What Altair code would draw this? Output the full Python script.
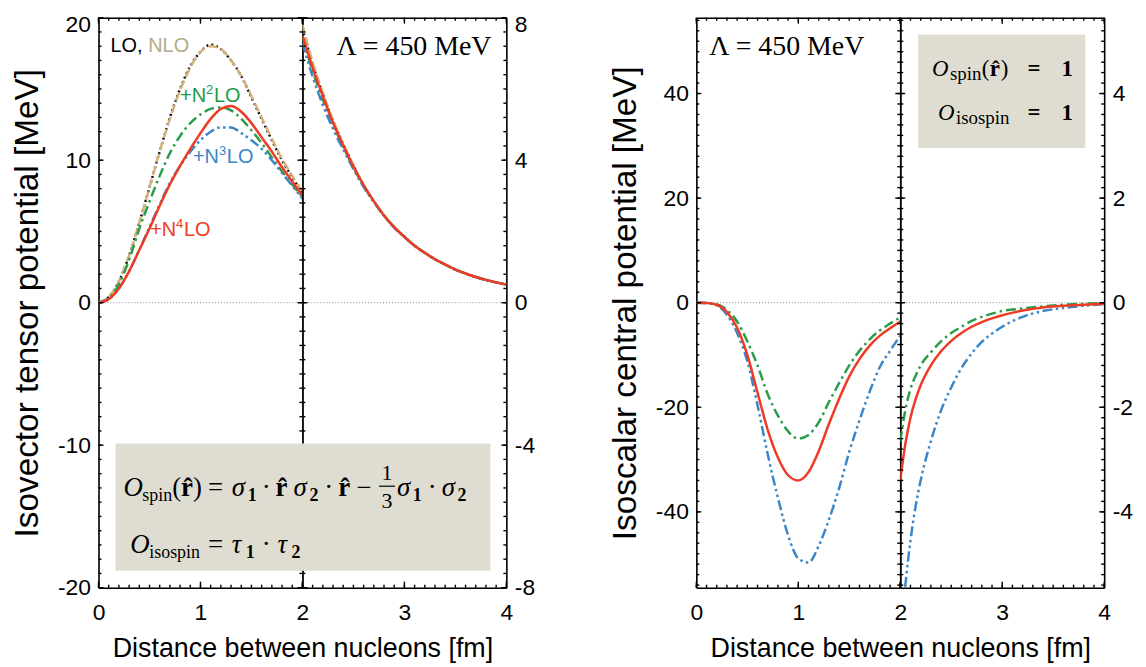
import altair as alt
import pandas as pd

# ---------------- data ----------------
R_IN = [0.0, 0.1, 0.2, 0.3, 0.4, 0.5, 0.6, 0.7, 0.8, 0.9, 1.0, 1.1, 1.2, 1.3, 1.4, 1.5, 1.6, 1.7, 1.8, 1.9, 2.0]
R_OUT = [2.0, 2.1, 2.2, 2.3, 2.4, 2.5, 2.6, 2.7, 2.8, 2.9, 3.0, 3.1, 3.2, 3.3, 3.4, 3.5, 3.6, 3.7, 3.8, 3.9, 4.0]
R_OUT_IS = [2.0, 2.05, 2.1, 2.15, 2.2, 2.3, 2.4, 2.5, 2.6, 2.7, 2.8, 2.9, 3.0, 3.2, 3.4, 3.6, 3.8, 4.0]

TV_LO_IN = [0, 0.4, 1.5, 3.3, 5.6, 8.1, 10.6, 13.0, 15.0, 16.6, 17.6, 18.1, 17.8, 17.0, 15.9, 14.4, 12.9, 11.4, 10.0, 8.8, 7.7]
TV_NLO_IN = [0, 0.4, 1.5, 3.3, 5.6, 8.1, 10.6, 12.9, 14.9, 16.5, 17.6, 18.0, 17.8, 17.0, 15.9, 14.5, 13.0, 11.5, 10.1, 8.9, 7.8]
TV_N2LO_IN = [0, 0.3, 1.3, 3.0, 5.2, 7.1, 8.9, 10.5, 11.7, 12.6, 13.2, 13.6, 13.7, 13.5, 12.9, 12.1, 11.2, 10.2, 9.2, 8.3, 7.4]
TV_N3LO_IN = [0, 0.25, 1.0, 2.2, 3.7, 5.3, 6.9, 8.4, 9.6, 10.6, 11.4, 12.0, 12.3, 12.3, 11.9, 11.4, 10.8, 10.0, 9.1, 8.2, 7.3]
TV_N4LO_IN = [0, 0.25, 1.0, 2.2, 3.7, 5.2, 6.8, 8.3, 9.6, 10.8, 11.9, 12.9, 13.6, 13.8, 13.4, 12.6, 11.6, 10.6, 9.5, 8.5, 7.5]

TV_LO_OUT = [7.7, 6.7, 5.85, 5.1, 4.45, 3.85, 3.3, 2.85, 2.45, 2.12, 1.85, 1.6, 1.4, 1.22, 1.07, 0.93, 0.82, 0.72, 0.64, 0.57, 0.51]
TV_NLO_OUT = [7.8, 6.75, 5.9, 5.12, 4.46, 3.86, 3.3, 2.85, 2.45, 2.12, 1.85, 1.6, 1.4, 1.22, 1.07, 0.93, 0.82, 0.72, 0.64, 0.57, 0.51]
TV_N2LO_OUT = [7.45, 6.5, 5.7, 5.0, 4.38, 3.8, 3.28, 2.84, 2.45, 2.12, 1.85, 1.6, 1.4, 1.22, 1.07, 0.93, 0.82, 0.72, 0.64, 0.57, 0.51]
TV_N3LO_OUT = [7.3, 6.35, 5.55, 4.88, 4.3, 3.75, 3.25, 2.82, 2.44, 2.11, 1.84, 1.6, 1.4, 1.22, 1.07, 0.93, 0.82, 0.72, 0.64, 0.57, 0.51]
TV_N4LO_OUT = [7.5, 6.6, 5.8, 5.05, 4.42, 3.82, 3.3, 2.85, 2.45, 2.12, 1.85, 1.6, 1.4, 1.22, 1.07, 0.93, 0.82, 0.72, 0.64, 0.57, 0.51]

IS_N2LO_IN = [0, -0.05, -0.3, -1.4, -3.6, -7.4, -12.0, -17.5, -21.6, -24.6, -26.0, -25.3, -22.9, -19.0, -15.4, -12.0, -9.2, -7.0, -5.3, -4.0, -2.8]
IS_N3LO_IN = [0, -0.05, -0.5, -2.3, -5.8, -11.2, -19.6, -29.0, -37.3, -44.5, -48.9, -49.7, -46.5, -41.5, -35.5, -28.5, -22.5, -17.0, -12.3, -9.2, -6.3]
IS_N4LO_IN = [0, -0.05, -0.4, -1.8, -4.8, -10.0, -17.2, -24.3, -29.6, -33.0, -34.0, -32.4, -28.4, -23.2, -18.4, -14.1, -10.8, -8.2, -6.3, -4.9, -3.6]

IS_N2LO_OUT = [-2.65, -2.05, -1.65, -1.4, -1.2, -0.95, -0.74, -0.58, -0.46, -0.35, -0.27, -0.21, -0.16, -0.11, -0.07, -0.04, -0.02, -0.01]
IS_N3LO_OUT = [-6.4, -5.4, -4.55, -3.9, -3.4, -2.65, -2.06, -1.62, -1.25, -0.97, -0.75, -0.59, -0.46, -0.27, -0.16, -0.1, -0.06, -0.03]
IS_N4LO_OUT = [-3.4, -2.7, -2.2, -1.85, -1.58, -1.2, -0.93, -0.73, -0.58, -0.46, -0.37, -0.3, -0.24, -0.15, -0.09, -0.06, -0.04, -0.02]

SANS = "Liberation Sans"
SERIF = "Liberation Serif"
W = 205
H = 573
BOX = "#dfddd2"

STYLE = {
    "LO": dict(color="#111111", strokeDash=[2, 3]),
    "NLO": dict(color="#d2b27a", strokeDash=[9, 4]),
    "N2LO": dict(color="#2a9d4a", strokeDash=[10, 4, 2.5, 4]),
    "N3LO": dict(color="#3a86c8", strokeDash=[10, 3.5, 2.5, 3.5, 2.5, 3.5]),
    "N4LO": dict(color="#ef3b24"),
}

ONE = pd.DataFrame({"k": [0]})


def lab_ax(orient, values, labels=False, title=None, pad=8, hide=None, domain=True, **kw):
    d = dict(orient=orient, values=values, ticks=False, domain=domain, grid=False,
             labels=labels, title=title)
    if domain:
        d.update(domainColor="black", domainWidth=1.6)
    if labels:
        expr = "'' + datum.value"
        if hide is not None:
            expr = "datum.value == %s ? '' : '' + datum.value" % hide
        d.update(labelFont=SANS, labelFontSize=23, labelColor="black", labelExpr=expr,
                 labelPadding=pad, labelFlush=False, labelOverlap=False)
    d.update(kw)
    return alt.Axis(**d)


def frange(a, b, step):
    n = int(round((b - a) / step))
    return [round(a + i * step, 4) for i in range(n + 1)]


def tick_marks(values, orient, size, xs, ys):
    # inward frame ticks: tick marks positioned through the view's scales
    df = pd.DataFrame({"t": values})
    if orient in ("bottom", "top"):
        yc = H - size / 2 if orient == "bottom" else size / 2
        return alt.Chart(df).mark_tick(color="black", orient="vertical", thickness=1.4,
                                       size=size, opacity=1).encode(
            x=alt.X("t:Q", scale=xs, axis=None), y=alt.value(yc))
    xc = size / 2 if orient == "left" else W - size / 2
    return alt.Chart(df).mark_tick(color="black", orient="horizontal", thickness=1.4,
                                   size=size, opacity=1).encode(
        y=alt.Y("t:Q", scale=ys, axis=None), x=alt.value(xc))


def line_layer(r, v, name, xs, ys):
    df = pd.DataFrame({"r": r, "v": v})
    return alt.Chart(df).mark_line(strokeWidth=2.5, interpolate="monotone", clip=True,
                                   **STYLE[name]).encode(
        x=alt.X("r:Q", scale=xs, axis=None),
        y=alt.Y("v:Q", scale=ys, axis=None),
    )


def text(t, x, y, size, font=SERIF, color="black", style="normal", weight="normal", align="left"):
    return alt.Chart(ONE).mark_text(text=t, font=font, fontSize=size, fontStyle=style,
                                    fontWeight=weight, color=color, align=align,
                                    baseline="alphabetic").encode(x=alt.value(x), y=alt.value(y))


def view(xdom, ydom, xmaj, xmin, ymaj, ymin, side, lines, extra, ytitle=None, xtitle=None,
         hide_x=None):
    xs = alt.Scale(domain=xdom, nice=False, zero=False)
    ys = alt.Scale(domain=ydom, nice=False, zero=False)
    other = "right" if side == "left" else "left"
    zdf = pd.DataFrame({"r": [xdom[0]], "r2": [xdom[1]], "v": [0]})
    base = alt.Chart(zdf)
    xlab_kw = {}
    if xtitle:
        xlab_kw = dict(titleX=W, titleFont=SANS, titleFontSize=27, titleFontWeight="normal",
                       titleColor="black", titlePadding=11)
    ylab_kw = {}
    if ytitle:
        ylab_kw = dict(titleFont=SANS, titleFontSize=33.5, titleFontWeight="normal",
                       titleColor="black", titlePadding=13)
    top_lab = [v for v in ymaj if v >= ydom[1]]
    main_lab = [v for v in ymaj if v < ydom[1]]
    layers = [
        base.mark_rule(color="#8c8c8c", strokeDash=[1, 2], strokeWidth=1).encode(
            x=alt.X("r:Q", scale=xs, axis=lab_ax("bottom", xmaj, labels=True, title=xtitle,
                                                  pad=14, hide=hide_x, **xlab_kw)),
            x2="r2:Q",
            y=alt.Y("v:Q", scale=ys, axis=lab_ax(side, main_lab, labels=True, title=ytitle,
                                                  pad=8, **ylab_kw)),
        ),
        base.mark_rule(opacity=0).encode(
            x=alt.X("r:Q", scale=xs, axis=lab_ax("top", xmaj)),
            x2="r2:Q",
            y=alt.Y("v:Q", scale=ys, axis=lab_ax(other, ymaj)),
        ),
    ]
    if top_lab:
        # the label at the very top edge is nudged down so it stays inside the page
        layers.append(base.mark_rule(opacity=0).encode(
            x=alt.X("r:Q", scale=xs, axis=None),
            x2="r2:Q",
            y=alt.Y("v:Q", scale=ys, axis=lab_ax(side, top_lab, labels=True, pad=8,
                                                  domain=False, labelOffset=7)),
        ))
    ll = [line_layer(r, v, n, xs, ys) for (r, v, n) in lines]
    ticks = []
    for o in ("bottom", "top"):
        ticks.append(tick_marks(xmaj, o, 6, xs, ys))
        ticks.append(tick_marks(xmin, o, 3, xs, ys))
    for o in ("left", "right"):
        ticks.append(tick_marks(ymaj, o, 5, xs, ys))
        ticks.append(tick_marks(ymin, o, 3, xs, ys))
    return alt.layer(*layers, *ll, *ticks, *extra).resolve_scale(
        x="shared", y="shared").resolve_axis(
        x="independent", y="independent").properties(width=W, height=H)


lab_left = [
    text("LO,", 12, 34, 20, font=SANS, color="#000000"),
    text("NLO", 50, 34, 20, font=SANS, color="#b4ab86"),
    text("+N", 82, 85, 20, font=SANS, color="#1f9a48"),
    text("2", 108, 77, 13, font=SANS, color="#1f9a48"),
    text("LO", 116, 85, 20, font=SANS, color="#1f9a48"),
    text("+N", 95, 146, 20, font=SANS, color="#3a86c8"),
    text("3", 121, 138, 13, font=SANS, color="#3a86c8"),
    text("LO", 129, 146, 20, font=SANS, color="#3a86c8"),
    text("+N", 52, 219, 20, font=SANS, color="#ef3b24"),
    text("4", 78, 211, 13, font=SANS, color="#ef3b24"),
    text("LO", 86, 219, 20, font=SANS, color="#ef3b24"),
]

ox = 303
box_left = alt.Chart(ONE).mark_rect(color=BOX).encode(
    x=alt.value(115 - ox), x2=alt.value(492 - ox), y=alt.value(428), y2=alt.value(556))


def px(x):
    return x - ox


F1 = 481
F2 = 538
formula = [
    text("O", px(123), F1, 27, style="italic"),
    text("spin", px(142), F1 + 5, 18),
    text("(", px(172), F1, 27),
    text("r\u0302", px(181), F1, 27, weight="bold"),
    text(")", px(193), F1, 27),
    text("=", px(208), F1, 27),
    text("\u03c3", px(232), F1, 27, style="italic"),
    text("1", px(248), F1 + 5, 18, weight="bold"),
    text("\u00b7", px(262), F1, 27),
    text("r\u0302", px(276), F1, 27, weight="bold"),
    text("\u03c3", px(294), F1, 27, style="italic"),
    text("2", px(310), F1 + 5, 18, weight="bold"),
    text("\u00b7", px(325), F1, 27),
    text("r\u0302", px(339), F1, 27, weight="bold"),
    text("\u2212", px(357), F1, 27),
    text("1", px(388), F1 - 16, 22, align="center"),
    text("3", px(388), F1 + 12, 22, align="center"),
    text("\u03c3", px(398), F1, 27, style="italic"),
    text("1", px(414), F1 + 5, 18, weight="bold"),
    text("\u00b7", px(429), F1, 27),
    text("\u03c3", px(443), F1, 27, style="italic"),
    text("2", px(459), F1 + 5, 18, weight="bold"),
    text("O", px(130), F2, 27, style="italic"),
    text("isospin", px(149), F2 + 5, 18),
    text("=", px(208), F2, 27),
    text("\u03c4", px(232), F2, 27, style="italic"),
    text("1", px(246), F2 + 5, 18, weight="bold"),
    text("\u00b7", px(262), F2, 27),
    text("\u03c4", px(278), F2, 27, style="italic"),
    text("2", px(292), F2 + 5, 18, weight="bold"),
]
frac_bar = alt.Chart(ONE).mark_rule(color="black", strokeWidth=1.2).encode(
    x=alt.value(px(380)), x2=alt.value(px(396)), y=alt.value(F1 - 10), y2=alt.value(F1 - 10))

lam_left = text("\u039b = 450 MeV", 190, 37, 28, align="right")

L1 = view([0, 2], [-20, 20], [0, 1, 2], frange(0, 2, 0.1), [-20, -10, 0, 10, 20], frange(-20, 20, 1),
          "left",
          [(R_IN, TV_LO_IN, "LO"), (R_IN, TV_NLO_IN, "NLO"), (R_IN, TV_N2LO_IN, "N2LO"),
           (R_IN, TV_N3LO_IN, "N3LO"), (R_IN, TV_N4LO_IN, "N4LO")],
          lab_left, ytitle="Isovector tensor potential [MeV]", xtitle="Distance between nucleons [fm]")
L2 = view([2, 4], [-8, 8], [2, 3, 4], frange(2, 4, 0.1), [-8, -4, 0, 4, 8], frange(-8, 8, 0.4),
          "right",
          [(R_OUT, TV_LO_OUT, "LO"), (R_OUT, TV_NLO_OUT, "NLO"), (R_OUT, TV_N2LO_OUT, "N2LO"),
           (R_OUT, TV_N3LO_OUT, "N3LO"), (R_OUT, TV_N4LO_OUT, "N4LO")],
          [box_left, frac_bar, *formula, lam_left], hide_x=2)

lam_right = text("\u039b = 450 MeV", 13, 37, 28)
box_right = alt.Chart(ONE).mark_rect(color=BOX).encode(
    x=alt.value(18), x2=alt.value(186), y=alt.value(17), y2=alt.value(131))
ops_right = [
    text("O", 32, 59, 23, style="italic"),
    text("spin", 50, 63, 19),
    text("(", 82, 59, 23),
    text("r\u0302", 90, 59, 23, weight="bold"),
    text(")", 101, 59, 23),
    text("=", 128, 59, 23, weight="bold"),
    text("1", 162, 59, 23, weight="bold"),
    text("O", 38, 103, 23, style="italic"),
    text("isospin", 56, 107, 19),
    text("=", 128, 103, 23, weight="bold"),
    text("1", 162, 103, 23, weight="bold"),
]

R1 = view([0, 2], [-54.5, 54.5], [0, 1, 2], frange(0, 2, 0.1), [-40, -20, 0, 20, 40], frange(-54, 54, 2),
          "left",
          [(R_IN, IS_N2LO_IN, "N2LO"), (R_IN, IS_N3LO_IN, "N3LO"), (R_IN, IS_N4LO_IN, "N4LO")],
          [lam_right], ytitle="Isoscalar central potential [MeV]", xtitle="Distance between nucleons [fm]")
R2 = view([2, 4], [-5.45, 5.45], [2, 3, 4], frange(2, 4, 0.1), [-4, -2, 0, 2, 4], frange(-5.4, 5.4, 0.2),
          "right",
          [(R_OUT_IS, IS_N2LO_OUT, "N2LO"), (R_OUT_IS, IS_N3LO_OUT, "N3LO"), (R_OUT_IS, IS_N4LO_OUT, "N4LO")],
          [box_right, *ops_right], hide_x=2)

left_panel = alt.hconcat(L1, L2, spacing=0, bounds="flush")
right_panel = alt.hconcat(R1, R2, spacing=0, bounds="flush")

chart = alt.hconcat(left_panel, right_panel, spacing=73).properties(
    padding={"left": 2, "top": 3, "right": 5, "bottom": 5}
).configure_view(stroke=None).configure(background="white")

chart.save("out.html", embed_options={"renderer": "svg", "actions": False})
